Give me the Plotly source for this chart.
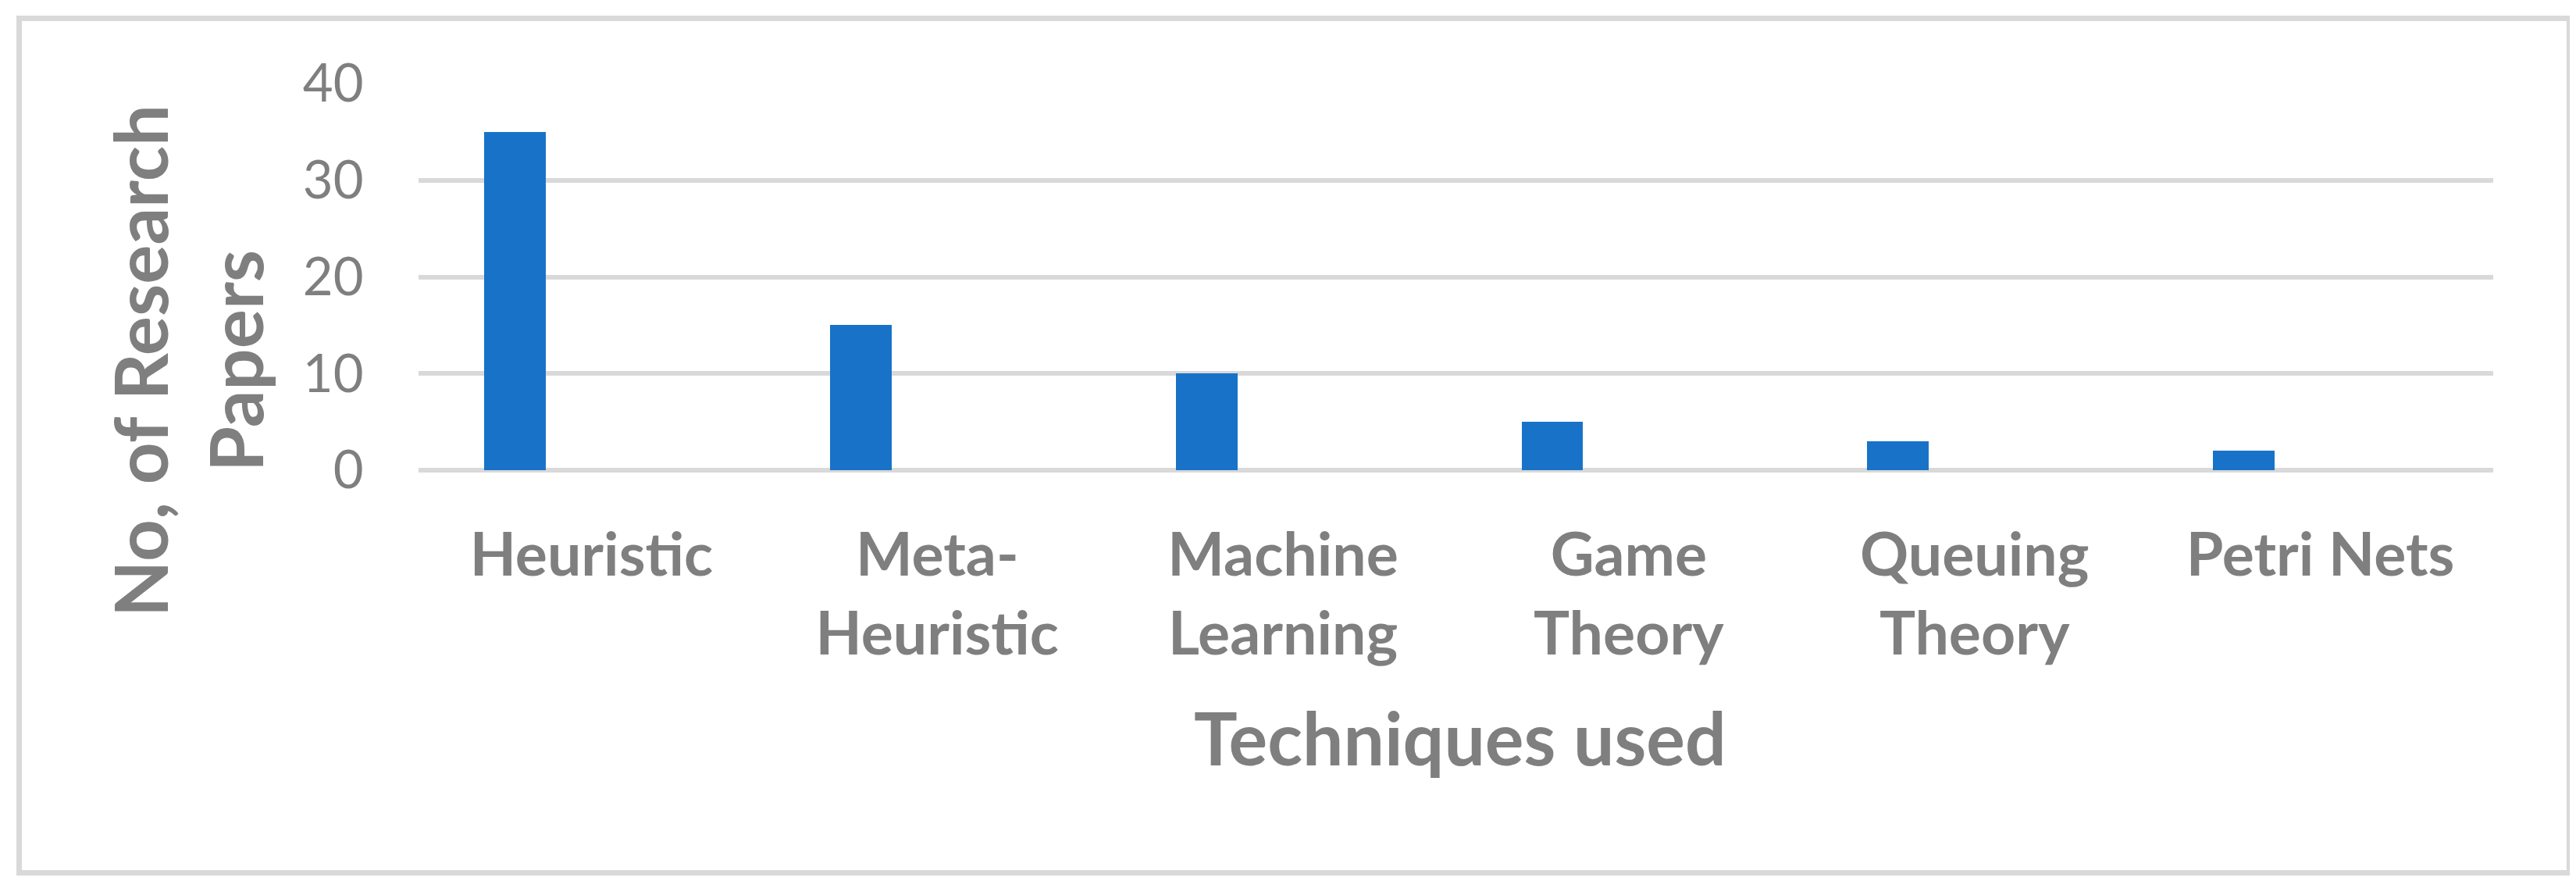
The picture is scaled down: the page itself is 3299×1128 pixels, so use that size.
import plotly.graph_objects as go

# ---- data ----
categories = ["Heuristic", "Meta-Heuristic", "Machine Learning", "Game Theory", "Queuing Theory", "Petri Nets"]
tick_labels = ["Heuristic", "Meta-<br>Heuristic", "Machine<br>Learning", "Game<br>Theory", "Queuing<br>Theory", "Petri Nets"]
papers = [35, 15, 10, 5, 3, 2]
y_ticks = [0, 10, 20, 30, 40]
x_title = "Techniques used"
y_title = "No, of Research<br>Papers"

# ---- layout constants (pixels) ----
W, H = 3299, 1128
L, R, T, B = 528, 114, 99, 534
PW, PH = W - L - R, H - T - B
GRAY = "#7f7f7f"
GRID = "#d9d9d9"
FONT = "Lato, 'Open Sans', sans-serif"

def px_x(p):
    return (p - L) / PW

def px_y(p):
    return (H - B - p) / PH

fig = go.Figure()
fig.add_trace(go.Bar(
    x=categories, y=papers,
    width=0.178, offset=-0.31,
    marker=dict(color="#1873C8", line=dict(width=0)),
    showlegend=False,
))

fig.update_layout(
    width=W, height=H,
    margin=dict(l=L, r=R, t=T, b=B, autoexpand=False),
    paper_bgcolor="white", plot_bgcolor="white",
    font=dict(family=FONT, color=GRAY),
    bargap=0,
    xaxis=dict(
        type="category",
        tickmode="array", tickvals=categories, ticktext=tick_labels,
        tickfont=dict(family=FONT, size=77, color=GRAY, weight="bold"),
        ticks="outside", ticklen=42, tickcolor="rgba(0,0,0,0)",
        showgrid=False, showline=False, zeroline=False,
        automargin=False,
    ),
    yaxis=dict(
        range=[0, 40], tickmode="array", tickvals=y_ticks,
        tickfont=dict(family=FONT, size=67, color=GRAY),
        ticks="outside", ticklen=56, tickcolor="rgba(0,0,0,0)",
        showgrid=True, gridcolor=GRID, gridwidth=6,
        zeroline=True, zerolinecolor=GRID, zerolinewidth=6,
        showline=False, automargin=False,
    ),
    annotations=[
        dict(text=x_title, xref="paper", yref="paper",
             x=px_x(1862), y=px_y(936), xanchor="center", yanchor="middle",
             showarrow=False, font=dict(family=FONT, size=93, color=GRAY, weight="bold")),
        dict(text=y_title, xref="paper", yref="paper", textangle=-90,
             x=px_x(231), y=px_y(454), xanchor="center", yanchor="middle",
             showarrow=False, align="center",
             font=dict(family=FONT, size=94, color=GRAY, weight="bold")),
    ],
    shapes=[
        dict(type="rect", xref="paper", yref="paper",
             x0=px_x(16.5), x1=px_x(3282.5), y0=px_y(1109.5), y1=px_y(15.5),
             line=dict(color=GRID, width=7), fillcolor="rgba(0,0,0,0)", layer="below"),
    ],
)

fig.write_html("out.html")
